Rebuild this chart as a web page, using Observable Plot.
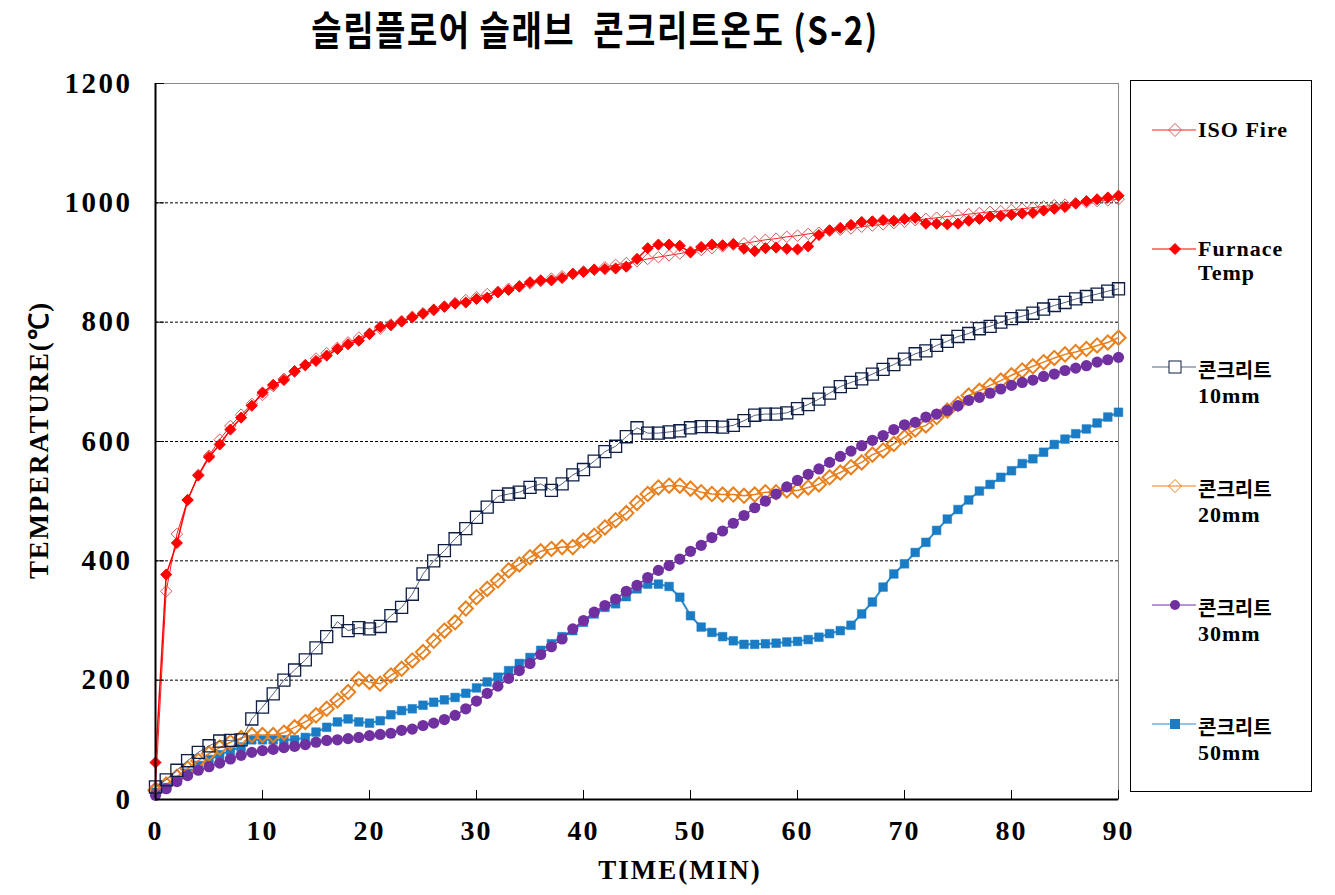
<!DOCTYPE html>
<html><head><meta charset="utf-8">
<script src="https://cdn.jsdelivr.net/npm/d3@7"></script>
<script src="https://cdn.jsdelivr.net/npm/@observablehq/plot@0.6"></script>
<style>
body{margin:0;background:#fff;}
#wrap{position:relative;width:1335px;height:895px;overflow:hidden;}
#chart svg{position:absolute;left:0;top:0;}
.title{position:absolute;left:0;width:1190px;top:-1px;text-align:center;font:700 33px "Noto Sans CJK KR";letter-spacing:1.5px;white-space:pre;transform:scaleY(1.2);transform-origin:top;color:#000;}
.xlabel{position:absolute;left:480px;width:400px;top:855px;text-align:center;font:700 27px "Liberation Serif";letter-spacing:2px;color:#000;}
.ylabel{position:absolute;left:37px;top:440px;transform:translate(-50%,-50%) rotate(-90deg);white-space:nowrap;font:700 27px "Liberation Serif";letter-spacing:1.8px;color:#000;}
.legend{position:absolute;left:1130px;top:80px;width:182px;height:712px;border:1px solid #000;box-sizing:border-box;}
.lg{position:absolute;left:1152px;}
.lgt{position:absolute;left:1198px;font:700 22px "Liberation Serif";letter-spacing:1px;line-height:24px;color:#000;white-space:pre;}
.kr{font:700 20px "Noto Sans CJK KR";letter-spacing:0;}
g[aria-label="y-axis tick label"]{font:bold 29px "Liberation Serif";letter-spacing:2.5px;}
g[aria-label="x-axis tick label"]{font:bold 28px "Liberation Serif";letter-spacing:2px;}
</style></head>
<body><div id="wrap"><div id="chart"></div>
<div class="title">슬림플로어 슬래브  콘크리트온도 (S-2)</div>
<div class="xlabel">TIME(MIN)</div>
<div class="ylabel">TEMPERATURE(℃)</div>
<div class="legend"></div>
</div>
<script>
const minutes = d3.range(0, 91);
const xTicks = [0,10,20,30,40,50,60,70,80,90];
const yTicks = [0,200,400,600,800,1000,1200];
const gridValues = [200,400,600,800,1000];

const isoFire = [20,349,445,502,544,576,603,626,645,663,678,693,705,717,728,739,748,757,766,774,781,789,796,802,809,815,820,826,832,837,842,847,851,856,860,865,869,873,877,881,885,888,892,896,899,902,906,909,912,915,918,921,924,927,930,932,935,938,940,943,945,948,950,953,955,957,960,962,964,966,968,971,973,975,977,979,981,983,985,986,988,990,992,994,996,997,999,1001,1003,1004,1006];
const furnace = [62,377,430,502,543,574,595,620,640,660,682,695,703,718,728,735,744,755,763,769,780,792,795,801,808,814,821,826,831,833,839,841,850,854,860,867,870,870,874,881,884,888,889,890,893,906,924,930,930,928,917,926,930,929,931,923,919,924,925,923,922,927,946,954,958,963,968,969,971,970,973,975,965,965,964,965,970,973,977,978,980,982,983,987,990,993,999,1003,1006,1009,1012];
const c10 = [21,33,49,65,79,90,98,99,100,135,155,177,200,217,234,254,273,298,283,288,286,290,308,322,344,378,400,417,437,454,473,490,508,512,515,523,529,518,529,544,553,567,583,592,608,623,614,614,616,618,623,625,625,624,627,635,644,646,646,648,655,662,671,681,692,699,705,713,721,729,738,747,752,761,768,776,781,789,793,800,806,810,815,822,828,833,839,843,847,852,856];
const c20 = [15,25,38,52,65,77,87,96,103,108,108,108,112,121,130,141,152,166,180,202,197,194,208,219,233,247,266,283,297,320,339,353,367,384,394,406,416,420,423,423,434,442,456,468,480,497,512,523,526,526,521,515,512,511,511,509,511,515,515,518,518,523,528,540,548,557,565,578,585,596,607,620,627,641,652,663,677,685,694,702,711,719,726,733,740,746,750,755,761,766,774];
const c30 = [7,18,30,40,49,55,61,68,74,79,82,84,87,89,92,96,99,100,102,104,107,109,111,116,118,124,128,134,141,152,165,178,190,203,216,228,243,256,269,286,300,314,325,336,349,359,372,384,392,403,416,426,439,450,463,476,489,500,512,524,535,545,554,565,575,584,593,602,610,620,628,632,641,646,652,660,669,674,681,688,694,699,703,709,713,719,723,727,733,737,741];
const c50 = [12,20,32,44,57,67,75,82,88,100,100,100,100,100,104,113,121,130,135,130,128,132,142,149,152,158,163,167,171,178,187,197,205,216,228,238,250,261,273,283,297,311,322,328,340,353,361,361,357,339,308,289,280,273,266,260,260,261,262,264,265,268,272,278,283,292,311,331,356,378,395,414,431,451,470,486,502,517,528,540,551,563,571,582,595,604,613,621,631,641,649];

const seriesNames = ["ISO Fire","Furnace\nTemp","콘크리트\n10mm","콘크리트\n20mm","콘크리트\n30mm","콘크리트\n50mm"];

const styles = {
  iso:  {line:"#ff2020", lw:1,   symbol:"diamond2", r:5.2, fill:"none",    stroke:"#d85a5a", sw:1},
  furn: {line:"#ff0000", lw:1.5, symbol:"diamond2", r:5.0, fill:"#ff0000", stroke:"#ff0000", sw:1},
  c10:  {line:"#56627e", lw:1,   symbol:"square",   r:6.8, fill:"none",    stroke:"#0d1d45", sw:1.3},
  c20:  {line:"#e8801e", lw:1.5, symbol:"diamond2", r:6.4, fill:"none",    stroke:"#e8801e", sw:2},
  c30:  {line:"#7030a0", lw:1.5, symbol:"circle",   r:5.6, fill:"#7030a0", stroke:"none",    sw:0},
  c50:  {line:"#2a8ad0", lw:2,   symbol:"square",   r:4.9, fill:"#1a7cc4", stroke:"#1a7cc4", sw:0.5}
};

function seriesMarks(vals, st) {
  const d = minutes.map((t, i) => ({t, v: vals[i]}));
  return [
    Plot.line(d, {x: "t", y: "v", stroke: st.line, strokeWidth: st.lw}),
    Plot.dot(d, {x: "t", y: "v", symbol: st.symbol, r: st.r, fill: st.fill, stroke: st.stroke, strokeWidth: st.sw})
  ];
}

const chart = Plot.plot({
  width: 1335, height: 895,
  marginLeft: 155, marginRight: 217, marginTop: 83, marginBottom: 96,
  style: {fontFamily: "Liberation Serif", background: "transparent", color: "#000"},
  x: {domain: [0, 90]},
  y: {domain: [0, 1200]},
  marks: [
    Plot.ruleY(gridValues, {stroke: "#000", strokeDasharray: "3,2", strokeWidth: 1}),
    Plot.frame({stroke: "#8a8a8a"}),
    ...seriesMarks(c50, styles.c50),
    ...seriesMarks(c20, styles.c20),
    ...seriesMarks(c30, styles.c30),
    ...seriesMarks(c10, styles.c10),
    ...seriesMarks(isoFire, styles.iso),
    ...seriesMarks(furnace, styles.furn),
    Plot.ruleX([0], {stroke: "#000", strokeWidth: 2}),
    Plot.ruleY([0], {stroke: "#000", strokeWidth: 2}),
    Plot.axisY({ticks: yTicks, tickSize: -9, tickPadding: 32, label: null, tickFormat: d => String(d), stroke: "#000"}),
    Plot.axisX({ticks: xTicks, tickSize: -9, tickPadding: 30, label: null, tickFormat: d => String(d), stroke: "#000"})
  ]
});
document.getElementById("chart").appendChild(chart);

// legend
const wrap = document.getElementById("wrap");
const legendTops = [130, 249, 367, 486, 605, 724];
const legendStyles = [styles.iso, styles.furn, styles.c10, styles.c20, styles.c30, styles.c50];
function markerSvg(st) {
  const cx = 23, cy = 10;
  let shape = "";
  if (st.symbol === "diamond2") {
    const h = st === styles.furn ? 5.5 : 6.5;
    shape = `<polygon points="${cx},${cy-h} ${cx+h},${cy} ${cx},${cy+h} ${cx-h},${cy}" fill="${st.fill}" stroke="${st.stroke}" stroke-width="1"/>`;
  } else if (st.symbol === "square") {
    const h = st.fill === "none" ? 6 : 4.5;
    shape = `<rect x="${cx-h}" y="${cy-h}" width="${2*h}" height="${2*h}" fill="${st.fill === "none" ? "#fff" : st.fill}" stroke="${st.stroke}" stroke-width="1"/>`;
  } else {
    shape = `<circle cx="${cx}" cy="${cy}" r="5" fill="${st.fill}"/>`;
  }
  return `<svg width="46" height="20"><line x1="0" y1="${cy}" x2="44" y2="${cy}" stroke="${st.line}" stroke-width="1.2"/>${shape}</svg>`;
}
seriesNames.forEach((name, i) => {
  const top = legendTops[i];
  const m = document.createElement("div");
  m.className = "lg";
  m.style.top = (top - 10) + "px";
  m.innerHTML = markerSvg(legendStyles[i]);
  wrap.appendChild(m);
  const t = document.createElement("div");
  t.className = "lgt";
  t.style.top = (top - 12) + "px";
  const parts = name.split("\n");
  t.innerHTML = parts.map(p => /[가-힣]/.test(p) ? `<span class="kr">${p}</span>` : p).join("<br>");
  wrap.appendChild(t);
});
</script>
</body></html>
